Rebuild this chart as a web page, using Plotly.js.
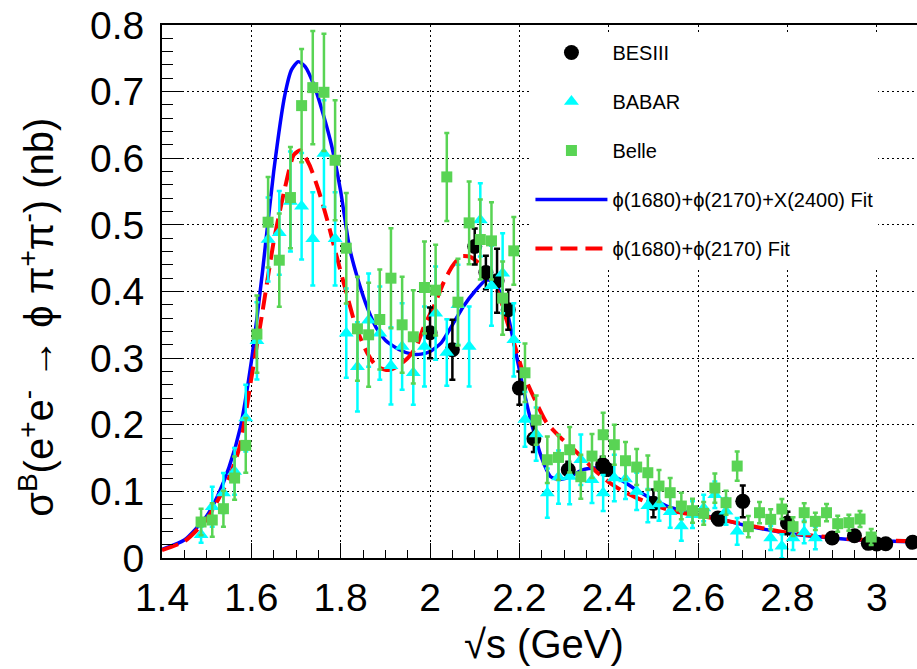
<!DOCTYPE html>
<html>
<head>
<meta charset="utf-8">
<script src="https://cdn.plot.ly/plotly-3.0.1.min.js"></script>
<style>html,body{margin:0;padding:0;background:#fff;}#chart{width:917px;height:669px;}</style>
</head>
<body>
<div id="chart"></div>
<script>
// ---- BESIII ----
const besX = [2.0, 2.05, 2.1, 2.125, 2.15, 2.175, 2.2, 2.2324, 2.3094, 2.3864, 2.396, 2.5, 2.6444, 2.6464, 2.7, 2.8, 2.9, 2.95, 2.981, 3.0, 3.02, 3.08];
const besY = [0.338, 0.3125, 0.4675, 0.4285, 0.416, 0.3725, 0.255, 0.179, 0.1325, 0.14, 0.133, 0.082, 0.06, 0.058, 0.085, 0.0525, 0.030, 0.0335, 0.022, 0.021, 0.0215, 0.0235];
const besE = [0.038, 0.045, 0.027, 0.025, 0.048, 0.03, 0.025, 0.02, 0.012, 0.012, 0.008, 0.021, 0.008, 0.006, 0.024, 0.017, 0.006, 0.006, 0.006, 0.005, 0.006, 0.005];

// ---- BABAR ----
const babarX = [1.4875, 1.5125, 1.5375, 1.5625, 1.5875, 1.6125, 1.6375, 1.6625, 1.6875, 1.7125, 1.7375, 1.7625, 1.7875, 1.8125, 1.8375, 1.8625, 1.8875, 1.9125, 1.9375, 1.9625, 1.9875, 2.0125, 2.0375, 2.0625, 2.0875, 2.1125, 2.1375, 2.1625, 2.1875, 2.2125, 2.2375, 2.2625, 2.2875, 2.3125, 2.3375, 2.3625, 2.3875, 2.4125, 2.4375, 2.4625, 2.4875, 2.5125, 2.5375, 2.5625, 2.5875, 2.6125, 2.6375, 2.6625, 2.6875, 2.7625, 2.7875, 2.8125, 2.8375, 2.8625];
const babarY = [0.035, 0.077, 0.0975, 0.13, 0.21, 0.326, 0.478, 0.488, 0.535, 0.528, 0.479, 0.607, 0.479, 0.3375, 0.287, 0.357, 0.3375, 0.2885, 0.3175, 0.278, 0.3175, 0.3675, 0.3085, 0.38, 0.3175, 0.5075, 0.4085, 0.4275, 0.3275, 0.208, 0.186, 0.0975, 0.1215, 0.1225, 0.1475, 0.1175, 0.0975, 0.12, 0.1185, 0.10, 0.0785, 0.081, 0.0695, 0.048, 0.065, 0.075, 0.095, 0.07, 0.04, 0.03, 0.0175, 0.03, 0.039, 0.03];
const babarE = [0.012, 0.03, 0.03, 0.035, 0.05, 0.058, 0.063, 0.063, 0.075, 0.08, 0.07, 0.08, 0.07, 0.067, 0.067, 0.07, 0.07, 0.058, 0.065, 0.048, 0.06, 0.07, 0.05, 0.06, 0.06, 0.055, 0.06, 0.06, 0.055, 0.041, 0.04, 0.037, 0.04, 0.042, 0.038, 0.035, 0.027, 0.035, 0.03, 0.028, 0.025, 0.025, 0.024, 0.022, 0.02, 0.02, 0.02, 0.02, 0.02, 0.018, 0.018, 0.018, 0.017, 0.017];

// ---- Belle ----
const belleX = [1.4875, 1.5125, 1.5375, 1.5625, 1.5875, 1.6125, 1.6375, 1.6625, 1.6875, 1.7125, 1.7375, 1.7625, 1.7875, 1.8125, 1.8375, 1.8625, 1.8875, 1.9125, 1.9375, 1.9625, 1.9875, 2.0125, 2.0375, 2.0625, 2.0875, 2.1125, 2.1375, 2.1625, 2.1875, 2.2125, 2.2375, 2.2625, 2.2875, 2.3125, 2.3375, 2.3625, 2.3875, 2.4125, 2.4375, 2.4625, 2.4875, 2.5125, 2.5375, 2.5625, 2.5875, 2.6125, 2.6375, 2.6625, 2.6875, 2.7125, 2.7375, 2.7625, 2.7875, 2.8125, 2.8375, 2.8625, 2.8875, 2.9125, 2.9375, 2.9625, 2.9875];
const belleY = [0.054, 0.057, 0.074, 0.12, 0.169, 0.336, 0.504, 0.447, 0.541, 0.679, 0.706, 0.699, 0.597, 0.465, 0.344, 0.335, 0.358, 0.42, 0.35, 0.332, 0.406, 0.402, 0.572, 0.384, 0.503, 0.478, 0.476, 0.39, 0.461, 0.278, 0.207, 0.1475, 0.151, 0.1625, 0.122, 0.153, 0.185, 0.17, 0.146, 0.1365, 0.128, 0.108, 0.098, 0.078, 0.071, 0.067, 0.105, 0.083, 0.138, 0.047, 0.068, 0.058, 0.0735, 0.047, 0.068, 0.055, 0.068, 0.0515, 0.053, 0.0585, 0.0315];
const belleE = [0.02, 0.025, 0.027, 0.0325, 0.041, 0.058, 0.068, 0.07, 0.076, 0.085, 0.085, 0.088, 0.09, 0.083, 0.078, 0.078, 0.075, 0.075, 0.072, 0.07, 0.069, 0.068, 0.066, 0.065, 0.062, 0.06, 0.058, 0.055, 0.051, 0.044, 0.037, 0.035, 0.034, 0.034, 0.033, 0.033, 0.033, 0.03, 0.028, 0.027, 0.026, 0.024, 0.022, 0.02, 0.018, 0.017, 0.022, 0.018, 0.022, 0.016, 0.016, 0.015, 0.015, 0.014, 0.014, 0.013, 0.013, 0.012, 0.012, 0.012, 0.012];

// ---- Fit curves ----
const fit3X = [1.40, 1.45, 1.50, 1.525, 1.55, 1.575, 1.60, 1.625, 1.65, 1.675, 1.69, 1.705, 1.72, 1.74, 1.76, 1.78, 1.80, 1.82, 1.84, 1.86, 1.88, 1.90, 1.93, 1.96, 1.98, 2.00, 2.025, 2.05, 2.075, 2.10, 2.125, 2.14, 2.15, 2.17, 2.19, 2.21, 2.23, 2.25, 2.27, 2.29, 2.31, 2.34, 2.37, 2.40, 2.43, 2.46, 2.49, 2.53, 2.57, 2.60, 2.64, 2.70, 2.75, 2.80, 2.85, 2.90, 2.95, 3.00, 3.09];
const fit3Y = [0.013, 0.027, 0.063, 0.094, 0.136, 0.195, 0.295, 0.43, 0.58, 0.695, 0.733, 0.745, 0.738, 0.71, 0.668, 0.618, 0.55, 0.465, 0.415, 0.375, 0.345, 0.327, 0.313, 0.306, 0.306, 0.31, 0.323, 0.35, 0.378, 0.40, 0.417, 0.416, 0.408, 0.376, 0.315, 0.25, 0.195, 0.15, 0.122, 0.118, 0.121, 0.132, 0.135, 0.126, 0.116, 0.103, 0.091, 0.078, 0.07, 0.065, 0.060, 0.05, 0.043, 0.037, 0.033, 0.03, 0.027, 0.026, 0.024];

const fit2X = [1.40, 1.45, 1.50, 1.55, 1.575, 1.60, 1.625, 1.65, 1.675, 1.695, 1.71, 1.73, 1.75, 1.77, 1.79, 1.81, 1.835, 1.86, 1.88, 1.905, 1.925, 1.95, 1.97, 1.985, 2.01, 2.03, 2.05, 2.07, 2.09, 2.11, 2.135, 2.155, 2.17, 2.19, 2.21, 2.24, 2.26, 2.29, 2.31, 2.34, 2.37, 2.40, 2.43, 2.46, 2.50, 2.545, 2.60, 2.64, 2.70, 2.75, 2.80, 2.85, 2.90, 2.95, 3.00, 3.09];
const fit2Y = [0.012, 0.025, 0.058, 0.12, 0.17, 0.27, 0.37, 0.475, 0.555, 0.605, 0.612, 0.59, 0.553, 0.507, 0.455, 0.405, 0.345, 0.307, 0.288, 0.282, 0.287, 0.30, 0.318, 0.345, 0.38, 0.413, 0.438, 0.453, 0.452, 0.442, 0.42, 0.395, 0.36, 0.318, 0.275, 0.23, 0.204, 0.182, 0.17, 0.151, 0.131, 0.114, 0.101, 0.091, 0.08, 0.07, 0.064, 0.059, 0.051, 0.044, 0.038, 0.034, 0.031, 0.028, 0.027, 0.025];

const legendNames = ['BESIII', 'BABAR', 'Belle', 'ϕ(1680)+ϕ(2170)+X(2400) Fit', 'ϕ(1680)+ϕ(2170) Fit'];

const FONT = 'Liberation Sans, Arial, Helvetica, sans-serif';
const greenC = '#59D454';

const traces = [
  {x: fit3X, y: fit3Y, type: 'scatter', mode: 'lines', name: legendNames[3], legendgroup: 'g4', legendrank: 4,
   line: {color: '#0000FF', width: 3.5, shape: 'spline', smoothing: 0.6}},
  {x: fit2X, y: fit2Y, type: 'scatter', mode: 'lines', name: legendNames[4], legendgroup: 'g5', legendrank: 5,
   line: {color: '#FF0000', width: 4, dash: '17px,8px', shape: 'spline', smoothing: 0.6}},
  {x: besX, y: besY, type: 'scatter', mode: 'markers', name: legendNames[0], legendgroup: 'g1', legendrank: 1,
   marker: {symbol: 'circle', size: 15, color: '#000000'},
   error_y: {type: 'data', array: besE, visible: true, color: '#000000', thickness: 2.5, width: 3}},
  {x: babarX, y: babarY, type: 'scatter', mode: 'markers', name: legendNames[1], legendgroup: 'g2', legendrank: 2,
   marker: {symbol: 'triangle-up', size: 13, color: '#00FFFF'},
   error_y: {type: 'data', array: babarE, visible: true, color: '#00FFFF', thickness: 2.5, width: 2.5}},
  {x: belleX, y: belleY, type: 'scatter', mode: 'markers', name: legendNames[2], legendgroup: 'g3', legendrank: 3,
   marker: {symbol: 'square', size: 11, color: greenC},
   error_y: {type: 'data', array: belleE, visible: true, color: greenC, thickness: 2.5, width: 2.5}}
];

const layout = {
  width: 917, height: 669,
  margin: {l: 162, r: 0, t: 25, b: 111, pad: 0},
  paper_bgcolor: '#ffffff', plot_bgcolor: '#ffffff',
  font: {family: FONT, color: '#000000'},
  showlegend: true,
  legend: {x: 0.488, y: 0.985, xanchor: 'left', yanchor: 'top', bgcolor: '#ffffff', borderwidth: 0,
           font: {family: FONT, size: 20, color: '#000'}, traceorder: 'grouped', tracegroupgap: 20,
           itemwidth: 72},
  xaxis: {
    range: [1.4, 3.09], tickmode: 'linear', tick0: 1.4, dtick: 0.2,
    ticks: 'inside', ticklen: 15, tickwidth: 1, tickcolor: '#000',
    showline: true, linecolor: '#000', linewidth: 2, mirror: true,
    showgrid: true, gridcolor: '#000', gridwidth: 1, griddash: '2px,3px',
    zeroline: false, tickfont: {family: FONT, size: 39, color: '#000'},
    ticklabelstandoff: 4,
    minor: {ticks: 'inside', ticklen: 8, dtick: 0.05, tick0: 1.4, tickcolor: '#000', tickwidth: 1, showgrid: false}
  },
  yaxis: {
    range: [0, 0.8], tickmode: 'linear', tick0: 0, dtick: 0.1,
    ticks: 'inside', ticklen: 20, tickwidth: 1, tickcolor: '#000',
    showline: true, linecolor: '#000', linewidth: 2, mirror: false,
    showgrid: true, gridcolor: '#000', gridwidth: 1, griddash: '2px,3px',
    zeroline: false, tickfont: {family: FONT, size: 39, color: '#000'},
    ticklabelstandoff: 8,
    minor: {ticks: 'inside', ticklen: 11, dtick: 0.02, tick0: 0, tickcolor: '#000', tickwidth: 1, showgrid: false}
  },
  annotations: [
    {text: '√s (GeV)', xref: 'paper', yref: 'paper', x: 0.506, y: -0.162, xanchor: 'center', yanchor: 'middle',
     showarrow: false, font: {family: FONT, size: 40, color: '#000'}},
    {text: 'σ<sup>B</sup>(e<sup>+</sup>e<sup>-</sup> → ϕ π<sup>+</sup>π<sup>-</sup>) (nb)', xref: 'paper', yref: 'paper',
     x: -0.166, y: 0.452, xanchor: 'center', yanchor: 'middle', textangle: -90,
     showarrow: false, font: {family: FONT, size: 40, color: '#000'}}
  ]
};

Plotly.newPlot('chart', traces, layout, {displayModeBar: false, staticPlot: true});
</script>
</body>
</html>
